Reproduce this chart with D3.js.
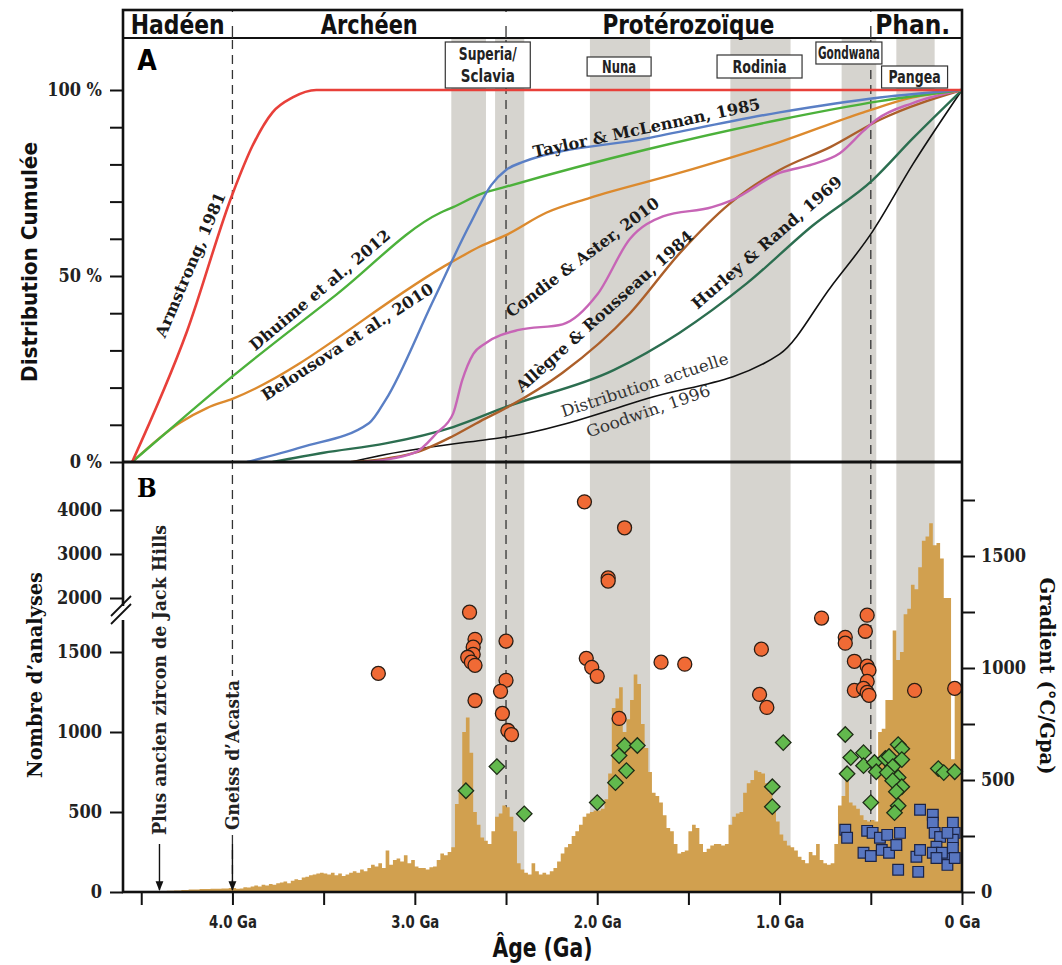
<!DOCTYPE html>
<html>
<head>
<meta charset="utf-8">
<script src="https://cdn.jsdelivr.net/npm/d3@7"></script>
<style>
body { margin: 0; background: #fff; }
.cond { font-family: "Liberation Sans Narrow", "DejaVu Sans Condensed", "Roboto Condensed", Roboto, sans-serif; }
.ser { font-family: "DejaVu Serif Condensed", "DejaVu Serif", "Liberation Serif", serif; }
</style>
</head>
<body>
<div id="chart"></div>
<script>
// ---- data ----
var eons = ["Hadéen", "Archéen", "Protérozoïque", "Phan."];
var eonAge = [4.3, 3.25, 1.5, 0.27];
var boundaries = [4.0, 2.5, 0.5];

var supercontinents = ["Superia/Sclavia", "Nuna", "Rodinia", "Gondwana", "Pangea"];
var superAge = [2.6, 1.88, 1.11, 0.62, 0.26];
var bandStart = [2.80, 2.56, 2.04, 1.27, 0.66, 0.36];
var bandEnd   = [2.61, 2.40, 1.71, 0.94, 0.47, 0.15];

// cumulative curves [age Ga, %]
var armstrong = [[4.55,0],[4.25,35],[4.0,72],[3.89,85],[3.78,94],[3.67,98],[3.54,100],[2.5,100],[1.0,100],[0,100]];
var dhuime = [[4.55,0],[4.29,11],[4.0,23],[3.43,45],[2.86,67],[2.79,68.5],[2.64,72],[2.5,74],[1.73,84],[1.0,92],[0.45,97],[0,100]];
var belousova = [[4.55,0],[4.29,10.5],[4.14,14.5],[4.0,17],[2.79,54],[2.64,58],[2.5,61],[2.28,67],[2.04,71],[1.55,77.7],[1.0,86],[0.54,94],[0.27,98],[0,100]];
var taylor = [[3.92,0],[3.62,4],[3.25,10.5],[3.16,16.7],[2.9,43.3],[2.7,63.7],[2.58,74.5],[2.5,78.5],[2.41,80.6],[1.73,87],[1.0,94],[0.45,98],[0,100]];
var condie = [[3.28,0],[3.0,2.5],[2.88,7.8],[2.79,13],[2.74,22],[2.68,29],[2.61,32],[2.43,35.5],[2.19,37],[2.0,45],[1.82,60],[1.64,66],[1.37,68.5],[1.26,70.4],[1.0,77.7],[0.82,80],[0.67,83],[0.54,89],[0.47,92],[0.27,96.5],[0,100]];
var allegre = [[3.35,0],[3.0,2.5],[2.79,7],[2.64,11],[2.5,14.5],[2.19,24],[1.82,40],[1.55,56],[1.27,69.6],[1.0,78.5],[0.72,84.7],[0.45,92],[0,100]];
var hurley = [[3.78,0],[3.5,2.5],[3.16,5],[2.79,9.4],[2.5,14.8],[1.91,24.7],[1.55,34.7],[1.18,48],[0.82,63.5],[0.49,75.8],[0.27,87],[0,100]];
var goodwin = [[3.35,0],[3.16,2],[2.61,6],[2.5,6.7],[1.73,17],[1.0,29],[0.72,47],[0.49,62],[0.27,80],[0,100]];

// histogram: 20 Myr bins from 4.40 Ga to 0 (counts)
var binWidth = 0.02, binOldest = 4.40;
var counts = [
  5,5,8,8,10,10,12,12,15,15,
  15,18,18,18,20,20,20,22,22,25,
  25,20,22,30,28,35,40,35,45,40,
  50,45,55,60,65,55,70,80,75,90,
  95,105,110,115,120,115,110,120,105,115,
  100,110,120,130,120,140,130,150,170,160,
  180,150,260,170,200,210,190,230,180,200,
  160,150,150,140,155,160,200,240,230,250,
  280,550,620,1000,1090,870,500,420,340,320,
  300,380,470,490,540,530,470,380,180,140,
  120,110,180,130,110,120,110,130,150,190,
  240,280,300,350,380,420,470,490,500,510,
  510,520,580,740,1150,1210,1280,1000,1080,1200,
  1360,1300,1050,900,750,620,600,560,480,400,
  380,300,240,250,260,380,420,400,300,250,
  270,290,300,300,290,300,420,470,490,500,
  620,680,700,760,750,740,680,620,520,440,
  360,320,290,280,260,220,200,180,250,230,
  300,200,180,170,180,300,540,600,720,560,
  540,520,480,450,440,450,440,1000,1020,1200,
  1200,1700,1450,1500,1850,1900,2300,2200,2700,3300,
  3400,3700,3200,3250,2900,2000,2000,830,1270,1250
];

// thermal gradients [age Ga, °C/GPa]
var highGrad = [[3.20,976],[2.70,1249],[2.67,1128],[2.68,1093],[2.68,1061],[2.71,1048],[2.69,1026],[2.67,1012],[2.67,855],
  [2.50,1120],[2.50,945],[2.53,896],[2.52,797],[2.49,721],[2.47,703],
  [2.07,1742],[1.85,1626],[1.94,1402],[1.94,1388],[2.06,1043],[2.03,1003],[2.00,963],[1.88,775],[1.65,1026],[1.52,1017],
  [1.10,1084],[1.11,882],[1.07,824],[0.77,1223],[0.64,1137],[0.64,1111],[0.52,1236],[0.53,1164],[0.59,1030],[0.52,1008],
  [0.51,990],[0.52,940],[0.59,900],[0.54,909],[0.52,891],[0.51,878],[0.26,900],[0.04,909]];
var midGrad = [[2.72,452],[2.55,560],[2.40,349],[2.00,399],[1.90,488],[1.84,542],[1.88,609],[1.85,654],[1.78,654],
  [0.98,667],[1.04,470],[1.04,381],
  [0.64,703],[0.61,600],[0.63,528],[0.54,622],[0.54,564],[0.48,578],[0.47,537],[0.50,399],[0.42,596],[0.40,605],
  [0.35,658],[0.33,640],[0.33,591],[0.38,560],[0.35,511],[0.41,533],[0.38,497],[0.33,470],[0.36,448],[0.35,385],
  [0.37,354],[0.13,551],[0.10,533],[0.04,537]];
var lowGrad = [[0.64,278],[0.63,242],[0.52,273],[0.49,264],[0.54,175],[0.50,161],[0.45,242],[0.41,255],[0.44,188],
  [0.40,175],[0.36,210],[0.34,264],[0.35,99],[0.24,90],[0.25,157],[0.23,188],[0.23,367],[0.16,345],[0.16,309],
  [0.15,264],[0.12,246],[0.14,202],[0.16,175],[0.09,157],[0.08,121],[0.05,309],[0.04,264],[0.05,233],[0.05,197],
  [0.04,152],[0.08,264],[0.11,175],[0.14,152]];

// ---- layout ----
var L = 123, R = 962, T = 10, HB = 38, MID = 462, B = 892;
var svg = d3.select("#chart").append("svg").attr("width", 1062).attr("height", 965);

var x = d3.scaleLinear().domain([4.6, 0]).range([L, R]);
var yA = d3.scaleLinear().domain([0, 100]).range([MID, 90]);
var yN = d3.scaleLinear().domain([0, 1500, 2000, 4000]).range([B, 652, 598, 510]);
var yG = d3.scaleLinear().domain([0, 1750]).range([B, 500]);

var defs = svg.append("defs");
defs.append("clipPath").attr("id", "clipA").append("rect")
  .attr("x", L).attr("y", HB).attr("width", R - L).attr("height", MID - HB);
defs.append("clipPath").attr("id", "clipB").append("rect")
  .attr("x", L).attr("y", MID).attr("width", R - L).attr("height", B - MID);
defs.append("marker").attr("id", "arrow").attr("viewBox", "0 0 10 10")
  .attr("refX", 9).attr("refY", 5).attr("markerWidth", 7).attr("markerHeight", 9)
  .attr("orient", "auto").append("path").attr("d", "M0,1L10,5L0,9Z").attr("fill", "#111");

// grey bands
svg.selectAll("rect.band").data(bandStart).enter().append("rect")
  .attr("class", "band")
  .attr("x", function(d) { return x(d); })
  .attr("width", function(d, i) { return x(bandEnd[i]) - x(d); })
  .attr("y", HB).attr("height", B - HB)
  .attr("fill", "#d6d4cf");

// eon boundaries
svg.selectAll("line.bound").data(boundaries).enter().append("line")
  .attr("x1", function(d) { return x(d); }).attr("x2", function(d) { return x(d); })
  .attr("y1", T).attr("y2", B)
  .attr("stroke", "#333").attr("stroke-width", 1.3).attr("stroke-dasharray", "9,6");

// histogram
var bins = counts.map(function(c, i) { return { a: binOldest - i * binWidth, v: c }; });
bins.push({ a: 0, v: counts[counts.length - 1] });
var area = d3.area()
  .x(function(d) { return x(d.a); })
  .y0(B).y1(function(d) { return yN(d.v); })
  .curve(d3.curveStepAfter);
svg.append("path").datum(bins).attr("d", area)
  .attr("fill", "#d1a04f").attr("clip-path", "url(#clipB)");

// cumulative curves
var line = d3.line()
  .x(function(d) { return x(d[0]); })
  .y(function(d) { return yA(d[1]); })
  .curve(d3.curveMonotoneX);
var curves = [
  { d: goodwin, c: "#111111", w: 1.6 },
  { d: hurley, c: "#2c6e50", w: 2.4 },
  { d: allegre, c: "#ac5f2a", w: 2.4 },
  { d: condie, c: "#c765b6", w: 2.4 },
  { d: belousova, c: "#dc8a2e", w: 2.4 },
  { d: dhuime, c: "#4cb13b", w: 2.4 },
  { d: taylor, c: "#5a7fc5", w: 2.4 },
  { d: armstrong, c: "#e8403a", w: 2.6 }
];
svg.append("g").attr("clip-path", "url(#clipA)")
  .selectAll("path").data(curves).enter().append("path")
  .attr("d", function(d) { return line(d.d); })
  .attr("fill", "none")
  .attr("stroke", function(d) { return d.c; })
  .attr("stroke-width", function(d) { return d.w; });

// curve labels
var curveLabels = [
  { t: "Armstrong, 1981", a: 4.23, p: 53, r: -67, len: 156, b: true },
  { t: "Dhuime et al., 2012", a: 3.52, p: 46.2, r: -40, len: 178, b: true },
  { t: "Belousova et al., 2010", a: 3.37, p: 32.3, r: -33, len: 201, b: true },
  { t: "Taylor & McLennan, 1985", a: 1.73, p: 89.8, r: -12, len: 232, b: true },
  { t: "Condie & Aster, 2010", a: 2.08, p: 55, r: -37, len: 187, b: true },
  { t: "Allègre & Rousseau, 1984", a: 1.96, p: 40.5, r: -42, len: 232, b: true },
  { t: "Hurley & Rand, 1969", a: 1.07, p: 59, r: -41, len: 193, b: true },
  { t: "Distribution actuelle", a: 1.74, p: 20.7, r: -18, len: 175, b: false },
  { t: "Goodwin, 1996", a: 1.72, p: 13.7, r: -19, len: 130, b: false }
];
svg.selectAll("text.clab").data(curveLabels).enter().append("text")
  .attr("class", "clab ser")
  .attr("transform", function(d) { return "translate(" + x(d.a) + "," + yA(d.p) + ") rotate(" + d.r + ")"; })
  .attr("text-anchor", "middle").attr("dominant-baseline", "central")
  .attr("font-size", 16)
  .attr("font-weight", function(d) { return d.b ? "bold" : "normal"; })
  .attr("fill", function(d) { return d.b ? "#1a1a1a" : "#333"; })
  .attr("textLength", function(d) { return d.len; })
  .attr("lengthAdjust", "spacingAndGlyphs")
  .text(function(d) { return d.t; });

// supercontinent boxes
var boxY = [42, 57, 55, 42, 66], boxW = [85, 64, 85, 66, 66], boxH = [46, 19, 23, 22, 22];
var lineLen = { "Superia/": 58, "Sclavia": 54, "Nuna": 34, "Rodinia": 54, "Gondwana": 62, "Pangea": 52 };
supercontinents.forEach(function(name, i) {
  var cx = x(superAge[i]);
  var g = svg.append("g");
  g.append("rect").attr("x", cx - boxW[i] / 2).attr("y", boxY[i])
    .attr("width", boxW[i]).attr("height", boxH[i])
    .attr("fill", "#fff").attr("stroke", "#333").attr("stroke-width", 1.2);
  var lines = name === "Superia/Sclavia" ? ["Superia/", "Sclavia"] : [name];
  lines.forEach(function(s, j) {
    g.append("text").attr("class", "cond")
      .attr("x", cx).attr("y", boxY[i] + boxH[i] / 2 + (lines.length > 1 ? (j - 0.5) * 22 : 0))
      .attr("text-anchor", "middle").attr("dominant-baseline", "central")
      .attr("font-size", 17).attr("font-weight", "bold").attr("fill", "#222")
      .attr("textLength", lineLen[s]).attr("lengthAdjust", "spacingAndGlyphs")
      .text(s);
  });
});

// scatter
var sc = svg.append("g");
sc.selectAll("circle").data(highGrad).enter().append("circle")
  .attr("cx", function(d) { return x(d[0]); }).attr("cy", function(d) { return yG(d[1]); })
  .attr("r", 7).attr("fill", "#f06a35").attr("stroke", "#2b1d14").attr("stroke-width", 1.3);
sc.selectAll("path.dia").data(midGrad).enter().append("path")
  .attr("class", "dia")
  .attr("d", d3.symbol().type(d3.symbolSquare).size(120))
  .attr("transform", function(d) { return "translate(" + x(d[0]) + "," + yG(d[1]) + ") rotate(45)"; })
  .attr("fill", "#62b94d").attr("stroke", "#1f2e17").attr("stroke-width", 1.3);
sc.selectAll("path.sq").data(lowGrad).enter().append("path")
  .attr("class", "sq")
  .attr("d", d3.symbol().type(d3.symbolSquare).size(115))
  .attr("transform", function(d) { return "translate(" + x(d[0]) + "," + yG(d[1]) + ")"; })
  .attr("fill", "#5876c0").attr("stroke", "#1b2447").attr("stroke-width", 1.2);

// frame
svg.append("rect").attr("x", L).attr("y", T).attr("width", R - L).attr("height", B - T)
  .attr("fill", "none").attr("stroke", "#111").attr("stroke-width", 2.6);
svg.append("line").attr("x1", L).attr("x2", R).attr("y1", HB).attr("y2", HB)
  .attr("stroke", "#111").attr("stroke-width", 2);
svg.append("line").attr("x1", L).attr("x2", R).attr("y1", MID).attr("y2", MID)
  .attr("stroke", "#111").attr("stroke-width", 3);

// eon header
svg.append("rect").attr("x", L + 2).attr("y", T + 2).attr("width", R - L - 4).attr("height", HB - T - 3).attr("fill", "#fff");
svg.selectAll("line.hdiv").data(boundaries).enter().append("line")
  .attr("x1", function(d) { return x(d); }).attr("x2", function(d) { return x(d); })
  .attr("y1", T + 16).attr("y2", HB)
  .attr("stroke", "#333").attr("stroke-width", 1.3);
var eonLen = [94, 97, 172, 75];
svg.selectAll("text.eon").data(eons).enter().append("text")
  .attr("class", "eon cond")
  .attr("x", function(d, i) { return x(eonAge[i]); }).attr("y", 25)
  .attr("text-anchor", "middle").attr("dominant-baseline", "central")
  .attr("font-size", 26).attr("font-weight", "bold").attr("fill", "#111")
  .attr("textLength", function(d, i) { return eonLen[i]; })
  .attr("lengthAdjust", "spacingAndGlyphs")
  .text(function(d) { return d; });

// axes
function styleAxis(g) {
  g.select(".domain").remove();
  g.selectAll(".tick line").attr("stroke", "#111").attr("stroke-width", 2);
  g.selectAll(".tick text").attr("fill", "#222");
}
svg.append("g").attr("transform", "translate(" + L + ",0)")
  .call(d3.axisLeft(yA).tickValues(d3.range(0, 101, 10)).tickSize(13).tickPadding(8)
    .tickFormat(function(d) { return d % 50 === 0 ? d + " %" : ""; }))
  .call(styleAxis)
  .selectAll("text").attr("class", "ser").attr("font-size", 18).attr("font-weight", "bold");

svg.append("g").attr("transform", "translate(" + L + ",0)")
  .call(d3.axisLeft(yN).tickValues([0, 500, 1000, 1500, 2000, 3000, 4000]).tickSize(13).tickPadding(8)
    .tickFormat(d3.format("d")))
  .call(styleAxis)
  .selectAll("text").attr("class", "ser").attr("font-size", 18).attr("font-weight", "bold");

svg.append("g").attr("transform", "translate(" + R + ",0)")
  .call(d3.axisRight(yG).tickValues(d3.range(0, 1751, 250)).tickSize(13).tickPadding(6)
    .tickFormat(function(d) { return d % 500 === 0 ? d : ""; }))
  .call(styleAxis)
  .selectAll("text").attr("class", "ser").attr("font-size", 18).attr("font-weight", "bold");

svg.append("g").attr("transform", "translate(0," + B + ")")
  .call(d3.axisBottom(x).tickValues(d3.range(0, 4.51, 0.5)).tickSize(13).tickPadding(10)
    .tickFormat(function(d) { return d % 1 === 0 ? (d === 0 ? "0 Ga" : d.toFixed(1) + " Ga") : ""; }))
  .call(styleAxis)
  .selectAll("text").attr("class", "cond").attr("font-size", 18).attr("font-weight", "bold")
  .filter(function() { return this.textContent !== ""; })
  .attr("textLength", function() { return this.textContent === "0 Ga" ? 36 : 48; })
  .attr("lengthAdjust", "spacingAndGlyphs");

// axis break on count axis
svg.append("rect").attr("x", L - 3).attr("y", 606).attr("width", 6).attr("height", 14).attr("fill", "#fff");
[0, 8].forEach(function(o) {
  svg.append("line").attr("x1", L - 12).attr("y1", 624 - o).attr("x2", L + 8).attr("y2", 604 - o)
    .attr("stroke", "#111").attr("stroke-width", 1.8);
});

// axis titles
svg.append("text").attr("class", "cond")
  .attr("transform", "translate(30,262) rotate(-90)")
  .attr("text-anchor", "middle").attr("dominant-baseline", "central")
  .attr("font-size", 21).attr("font-weight", "bold").attr("fill", "#111")
  .attr("textLength", 240).attr("lengthAdjust", "spacingAndGlyphs")
  .text("Distribution Cumulée");
svg.append("text").attr("class", "ser")
  .attr("transform", "translate(35,675) rotate(-90)")
  .attr("text-anchor", "middle").attr("dominant-baseline", "central")
  .attr("font-size", 20).attr("font-weight", "bold").attr("fill", "#111")
  .attr("textLength", 206).attr("lengthAdjust", "spacingAndGlyphs")
  .text("Nombre d’analyses");
svg.append("text").attr("class", "ser")
  .attr("transform", "translate(1047,676) rotate(90)")
  .attr("text-anchor", "middle").attr("dominant-baseline", "central")
  .attr("font-size", 20).attr("font-weight", "bold").attr("fill", "#111")
  .attr("textLength", 197).attr("lengthAdjust", "spacingAndGlyphs")
  .text("Gradient (°C/Gpa)");
svg.append("text").attr("class", "cond")
  .attr("x", (L + R) / 2).attr("y", 948)
  .attr("text-anchor", "middle").attr("dominant-baseline", "central")
  .attr("font-size", 26).attr("font-weight", "bold").attr("fill", "#111")
  .attr("textLength", 100).attr("lengthAdjust", "spacingAndGlyphs")
  .text("Âge (Ga)");

// panel letters
svg.append("text").attr("class", "cond").attr("x", 147).attr("y", 60)
  .attr("text-anchor", "middle").attr("dominant-baseline", "central")
  .attr("font-size", 28).attr("font-weight", "bold").text("A");
svg.append("text").attr("class", "ser").attr("x", 147).attr("y", 488)
  .attr("text-anchor", "middle").attr("dominant-baseline", "central")
  .attr("font-size", 26).attr("font-weight", "bold").text("B");

// markers for oldest samples
var markers = [
  { t: "Plus ancien zircon de Jack Hills", a: 4.4, cy: 680, len: 310 },
  { t: "Gneiss d’Acasta", a: 4.0, cy: 755, len: 150 }
];
markers.forEach(function(m) {
  svg.append("rect").attr("x", x(m.a) - 11).attr("y", m.cy - m.len / 2 - 4)
    .attr("width", 22).attr("height", m.len + 8).attr("fill", "#fff");
  svg.append("text").attr("class", "ser")
    .attr("transform", "translate(" + x(m.a) + "," + m.cy + ") rotate(-90)")
    .attr("text-anchor", "middle").attr("dominant-baseline", "central")
    .attr("font-size", 18).attr("font-weight", "bold").attr("fill", "#222")
    .attr("textLength", m.len).attr("lengthAdjust", "spacingAndGlyphs")
    .text(m.t);
  svg.append("line").attr("x1", x(m.a)).attr("x2", x(m.a)).attr("y1", 844).attr("y2", B - 2)
    .attr("stroke", "#111").attr("stroke-width", 1.4).attr("marker-end", "url(#arrow)");
});
</script>
</body>
</html>
